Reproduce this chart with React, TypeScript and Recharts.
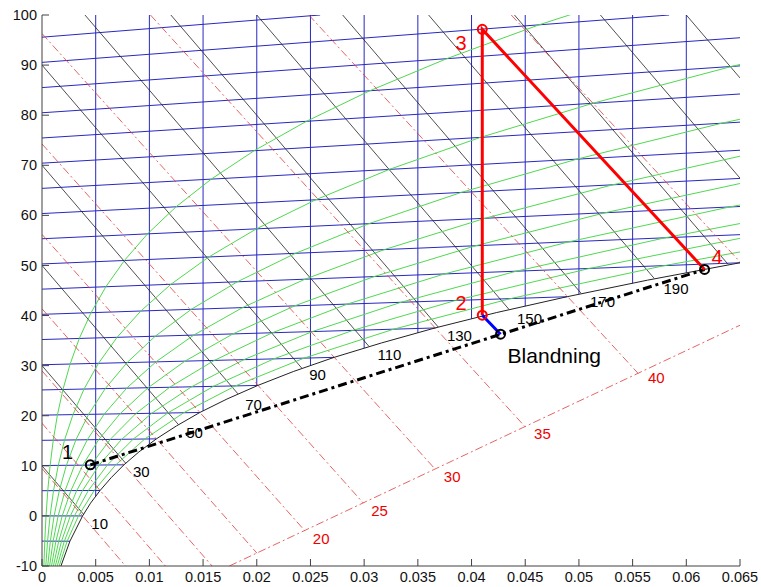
import { ComposedChart, Line, Scatter, XAxis, YAxis } from 'recharts';

// axis ticks
const xTicks = [0, 0.005, 0.01, 0.015, 0.02, 0.025, 0.03, 0.035, 0.04, 0.045, 0.05, 0.055, 0.06, 0.065];
const yTicks = [-10, 0, 10, 20, 30, 40, 50, 60, 70, 80, 90, 100];

// isotherms, -5 .. 95 °C  [x0, y0, x1, y1]
const isotherms = [
  [0, -5.03, 0.0026, -5.05],
  [0, 0, 0.00378, 0],
  [0, 5.03, 0.00541, 5.08],
  [0, 10.06, 0.00763, 10.2],
  [0, 15.09, 0.01065, 15.38],
  [0, 20.12, 0.0147, 20.65],
  [0, 25.15, 0.0201, 26.05],
  [0, 30.18, 0.0272, 31.65],
  [0, 35.21, 0.0366, 37.52],
  [0, 40.24, 0.0489, 43.76],
  [0, 45.27, 0.065, 50.54],
  [0, 50.3, 0.065, 56.15],
  [0, 55.33, 0.065, 61.77],
  [0, 60.36, 0.065, 67.38],
  [0, 65.39, 0.065, 73.0],
  [0, 70.42, 0.065, 78.61],
  [0, 75.45, 0.065, 84.23],
  [0, 80.48, 0.065, 89.84],
  [0, 85.51, 0.065, 95.46],
  [0, 90.54, 0.0584, 100],
  [0, 95.57, 0.0259, 100],
];

// constant moisture lines: x and where they leave the saturation curve
const moistX = [0.005, 0.01, 0.015, 0.02, 0.025, 0.03, 0.035, 0.04, 0.045, 0.05, 0.055, 0.06];
const moistYSat = [3.91, 14.34, 20.97, 25.95, 30.01, 33.48, 36.56, 39.34, 41.88, 44.25, 46.45, 48.52];

// enthalpy lines h = 10 .. 250  [x0, y0, x1, y1]
const enthalpyLines = [
  [0, 10, 0.00388, 0.3],
  [0, 30, 0.00779, 10.52],
  [0, 50, 0.0127, 18.24],
  [0, 70, 0.01825, 24.36],
  [0, 90, 0.0242, 29.48],
  [0.004, 100, 0.03044, 33.87],
  [0.012, 100, 0.0369, 37.71],
  [0.02, 100, 0.0435, 41.2],
  [0.028, 100, 0.0502, 44.45],
  [0.036, 100, 0.057, 47.44],
  [0.044, 100, 0.0639, 50.2],
  [0.052, 100, 0.065, 67.43],
  [0.06, 100, 0.065, 87.43],
];
const enthalpyLabels = [
  { x: 0.00537, y: -1.48, t: '10' },
  { x: 0.00925, y: 8.77, t: '30' },
  { x: 0.01421, y: 16.56, t: '50' },
  { x: 0.0197, y: 22.29, t: '70' },
  { x: 0.02566, y: 28.09, t: '90' },
  { x: 0.03236, y: 32.09, t: '110' },
  { x: 0.03887, y: 35.88, t: '130' },
  { x: 0.0454, y: 39.41, t: '150' },
  { x: 0.0522, y: 42.73, t: '170' },
  { x: 0.05904, y: 45.4, t: '190' },
];

// wet bulb lines 0 .. 45 °C  [x0, y0, x1, y1]
const wetBulbLines = [
  [0, 9.45, 0.00778, -10],
  [0, 18.5, 0.01149, -10],
  [0, 28.96, 0.01584, -10],
  [0, 41.35, 0.02002, -7.45],
  [0, 56.2, 0.02447, -2.95],
  [0, 74.25, 0.02992, 2.57],
  [0, 96.3, 0.03661, 9.34],
  [0.0101, 100, 0.04498, 17.81],
  [0.02485, 100, 0.05551, 28.46],
  [0.0437, 100, 0.065, 50.7],
];
const wetBulbBase = [0.01745, -10, 0.065, 38.07];
const wetBulbLabels = [
  { x: 0.026, y: -4.53, t: '20' },
  { x: 0.03143, y: 1.12, t: '25' },
  { x: 0.0382, y: 7.91, t: '30' },
  { x: 0.0466, y: 16.5, t: '35' },
  { x: 0.0572, y: 27.5, t: '40' },
];

// saturation curve
const saturation = [
  [0.00175, -10.09], [0.0026, -5.05], [0.00378, 0], [0.00452, 2.54], [0.00541, 5.08],
  [0.00644, 7.63], [0.00763, 10.2], [0.00903, 12.78], [0.01065, 15.38], [0.01252, 17.96],
  [0.0147, 20.65], [0.01722, 23.33], [0.0201, 26.05], [0.0234, 28.82], [0.0272, 31.65],
  [0.0316, 34.52], [0.0366, 37.52], [0.0423, 40.58], [0.0489, 43.76], [0.0564, 47.07], [0.065, 50.54],
];

// relative humidity 10% .. 90%
const rh10 = [[0.000176, -10.06], [0.000259, -5.03], [0.000375, 0], [0.000536, 5.03], [0.000755, 10.07], [0.001049, 15.12], [0.001439, 20.17], [0.001952, 25.24], [0.002618, 30.32], [0.003474, 35.43], [0.004566, 40.57], [0.005948, 45.75], [0.007674, 50.99], [0.009822, 56.3], [0.012485, 61.71], [0.015761, 67.23], [0.019757, 72.91], [0.024621, 78.77], [0.03053, 84.88], [0.037677, 91.27], [0.046292, 98.04], [0.056676, 105.26]];
const rh20 = [[0.000352, -10.06], [0.000518, -5.03], [0.000751, 0], [0.001073, 5.04], [0.001512, 10.09], [0.002101, 15.15], [0.002885, 20.22], [0.003916, 25.33], [0.005258, 30.46], [0.006989, 35.65], [0.009202, 40.9], [0.012007, 46.24], [0.015541, 51.7], [0.01997, 57.31], [0.025491, 63.11], [0.032342, 69.17], [0.040818, 75.56], [0.051291, 82.37], [0.064219, 89.73], [0.080209, 97.78]];
const rh30 = [[0.000528, -10.07], [0.000778, -5.04], [0.001128, 0], [0.001612, 5.04], [0.00227, 10.1], [0.003157, 15.18], [0.004338, 20.28], [0.005892, 25.42], [0.007921, 30.61], [0.010543, 35.87], [0.013902, 41.24], [0.01819, 46.74], [0.023606, 52.42], [0.030438, 58.34], [0.039039, 64.58], [0.049816, 71.22], [0.063288, 78.39], [0.080234, 86.28]];
const rh40 = [[0.000704, -10.07], [0.001037, -5.04], [0.001505, 0], [0.00215, 5.05], [0.003031, 10.11], [0.004217, 15.2], [0.005797, 20.33], [0.007882, 25.5], [0.010606, 30.75], [0.014135, 36.1], [0.018674, 41.58], [0.024486, 47.25], [0.031888, 53.17], [0.041266, 59.42], [0.053154, 66.1], [0.068235, 73.37]];
const rh50 = [[0.00088, -10.08], [0.001297, -5.04], [0.001882, 0], [0.00269, 5.05], [0.003793, 10.13], [0.00528, 15.23], [0.007263, 20.38], [0.009881, 25.59], [0.013314, 30.9], [0.017776, 36.33], [0.023523, 41.93], [0.030912, 47.77], [0.040371, 53.93], [0.052434, 60.52], [0.067859, 67.69]];
const rh60 = [[0.001057, -10.08], [0.001558, -5.04], [0.00226, 0], [0.00323, 5.06], [0.004557, 10.14], [0.006346, 15.26], [0.008737, 20.43], [0.011899, 25.69], [0.016049, 31.05], [0.021446, 36.56], [0.028445, 42.29], [0.037465, 48.3], [0.049071, 54.72], [0.06402, 61.67], [0.083307, 69.36]];
const rh70 = [[0.001233, -10.08], [0.001818, -5.05], [0.002637, 0], [0.003773, 5.06], [0.005323, 10.16], [0.007418, 15.29], [0.010216, 20.49], [0.013928, 25.78], [0.0188, 31.2], [0.025172, 36.8], [0.033437, 42.65], [0.044163, 48.85], [0.058013, 55.52], [0.07603, 62.86]];
const rh80 = [[0.00141, -10.09], [0.002079, -5.05], [0.003016, 0], [0.004316, 5.07], [0.006091, 10.17], [0.00849, 15.32], [0.011703, 20.54], [0.015966, 25.87], [0.021585, 31.35], [0.028931, 37.03], [0.03851, 43.01], [0.05098, 49.4], [0.067184, 56.35]];
const rh90 = [[0.001587, -10.09], [0.002339, -5.05], [0.003395, 0], [0.004859, 5.07], [0.006862, 10.18], [0.009568, 15.35], [0.013198, 20.6], [0.018018, 25.96], [0.024406, 31.5], [0.032735, 37.27], [0.043623, 43.38], [0.057939, 49.96], [0.076637, 57.2]];
const rhCurves = [rh10, rh20, rh30, rh40, rh50, rh60, rh70, rh80, rh90];

// process: 1 -> 4 mixing line, 2 -> 3 -> 4 heating/cooling, 2 -> mix
const mixingLine = [[0.0045, 10.2], [0.0617, 49.2]];
const processRed = [[0.041, 40.07], [0.041, 97.14], [0.0617, 49.2]];
const processBlue = [[0.041, 40.07], [0.0427, 36.28]];
const blackPoints = [{ x: 0.0045, y: 10.2 }, { x: 0.0617, y: 49.2 }, { x: 0.0427, y: 36.28 }];
const redPoints = [{ x: 0.041, y: 40.07 }, { x: 0.041, y: 97.14 }];
const processLabels = [
  { x: 0.00239, y: 12.7, t: '1', c: '#000' },
  { x: 0.03903, y: 42.53, t: '2', c: '#f00' },
  { x: 0.03903, y: 94.35, t: '3', c: '#f00' },
  { x: 0.06286, y: 51.72, t: '4', c: '#f00' },
];
const mixLabel = [{ x: 0.04771, y: 31.9, t: 'Blandning' }];

const FONT = '"Liberation Sans", Arial, Helvetica, sans-serif';
const PLOT_L = 42;
const PLOT_T = 15;
const PLOT_R = 740;
const PLOT_B = 566;
const AXIS = '#404040';

const pts = (arr: number[][]) => arr.map(([x, y]) => ({ x, y }));
const seg = (s: number[]) => [{ x: s[0], y: s[1] }, { x: s[2], y: s[3] }];

const textShape = (size: number, color: string) => (p: any) => (
  <text x={p.cx} y={p.cy} dy="0.35em" textAnchor="middle" fontSize={size}
    fill={p.payload.c || color} fontFamily={FONT}>{p.payload.t}</text>
);
const ring = (color: string) => (p: any) => (
  <circle cx={p.cx} cy={p.cy} r={4.5} fill="none" stroke={color} strokeWidth={2} />
);

export default function App() {
  const plain = { dot: false, isAnimationActive: false, legendType: 'none' as const, activeDot: false };
  return (
    <div style={{ position: 'absolute', left: 0, top: 0, background: '#fff' }}>
      <ComposedChart width={761} height={587} margin={{ top: PLOT_T, right: 761 - PLOT_R, bottom: 0, left: 0 }}>
        <XAxis xAxisId={0} dataKey="x" type="number" domain={[0, 0.065]} ticks={xTicks} allowDataOverflow
          height={587 - PLOT_B} tickLine={false} axisLine={{ stroke: AXIS }} interval={0}
          tick={(p: any) => (
            <g>
              <line x1={p.x} x2={p.x} y1={PLOT_B} y2={PLOT_B - 7} stroke={AXIS} />
              <text x={p.x} y={PLOT_B + 16} textAnchor="middle" fontSize={14.5} fill="#111" fontFamily={FONT}>{String(p.payload.value)}</text>
            </g>
          )} />
        <XAxis xAxisId="top" orientation="top" dataKey="x" type="number" domain={[0, 0.065]} ticks={xTicks} allowDataOverflow
          height={0} tickLine={false} axisLine={{ stroke: AXIS }} interval={0}
          tick={(p: any) => <line x1={p.x} x2={p.x} y1={PLOT_T} y2={PLOT_T + 7} stroke={AXIS} />} />
        <YAxis yAxisId={0} dataKey="y" type="number" domain={[-10, 100]} ticks={yTicks} allowDataOverflow
          width={PLOT_L} tickLine={false} axisLine={{ stroke: AXIS }} interval={0}
          tick={(p: any) => (
            <g>
              <line x1={PLOT_L} x2={PLOT_L + 7} y1={p.y} y2={p.y} stroke={AXIS} />
              <text x={37} y={p.y} dy="0.35em" textAnchor="end" fontSize={14.5} fill="#111" fontFamily={FONT}>{String(p.payload.value)}</text>
            </g>
          )} />
        <YAxis yAxisId="right" orientation="right" dataKey="y" type="number" domain={[-10, 100]} ticks={yTicks} allowDataOverflow
          width={0} tickLine={false} axisLine={{ stroke: AXIS }} interval={0}
          tick={(p: any) => <line x1={PLOT_R} x2={PLOT_R - 7} y1={p.y} y2={p.y} stroke={AXIS} />} />

        {isotherms.map((s, i) => (
          <Line key={'iso' + i} data={seg(s)} dataKey="y" stroke="#2828c0" strokeWidth={1} {...plain} />
        ))}
        {moistX.map((x, i) => (
          <Line key={'mx' + i} data={seg([x, moistYSat[i], x, 100])} dataKey="y" stroke="#2828c0" strokeWidth={1} {...plain} />
        ))}
        {enthalpyLines.map((s, i) => (
          <Line key={'h' + i} data={seg(s)} dataKey="y" stroke="#222" strokeWidth={0.8} {...plain} />
        ))}
        {rhCurves.map((c, i) => (
          <Line key={'rh' + i} data={pts(c)} dataKey="y" stroke="#50d850" strokeWidth={1} {...plain} />
        ))}
        {wetBulbLines.map((s, i) => (
          <Line key={'wb' + i} data={seg(s)} dataKey="y" stroke="#e03c3c" strokeWidth={0.8} strokeDasharray="8 3 2 3" {...plain} />
        ))}
        <Line data={seg(wetBulbBase)} dataKey="y" stroke="#e03c3c" strokeWidth={0.8} strokeDasharray="8 3 2 3" {...plain} />
        <Line data={pts(saturation)} dataKey="y" stroke="#222" strokeWidth={1} {...plain} />

        <Line data={pts(mixingLine)} dataKey="y" stroke="#000" strokeWidth={3} strokeDasharray="9 4 3 4" {...plain} />
        <Line data={pts(processRed)} dataKey="y" stroke="#f00" strokeWidth={3} {...plain} />
        <Line data={pts(processBlue)} dataKey="y" stroke="#00f" strokeWidth={3} {...plain} />
        <Scatter data={blackPoints} dataKey="y" shape={ring('#000')} isAnimationActive={false} legendType="none" />
        <Scatter data={redPoints} dataKey="y" shape={ring('#f00')} isAnimationActive={false} legendType="none" />

        <Scatter data={enthalpyLabels} dataKey="y" shape={textShape(15, '#000')} isAnimationActive={false} legendType="none" />
        <Scatter data={wetBulbLabels} dataKey="y" shape={textShape(15, '#e00')} isAnimationActive={false} legendType="none" />
        <Scatter data={processLabels} dataKey="y" shape={textShape(20, '#000')} isAnimationActive={false} legendType="none" />
        <Scatter data={mixLabel} dataKey="y" shape={textShape(21, '#000')} isAnimationActive={false} legendType="none" />
      </ComposedChart>
    </div>
  );
}
